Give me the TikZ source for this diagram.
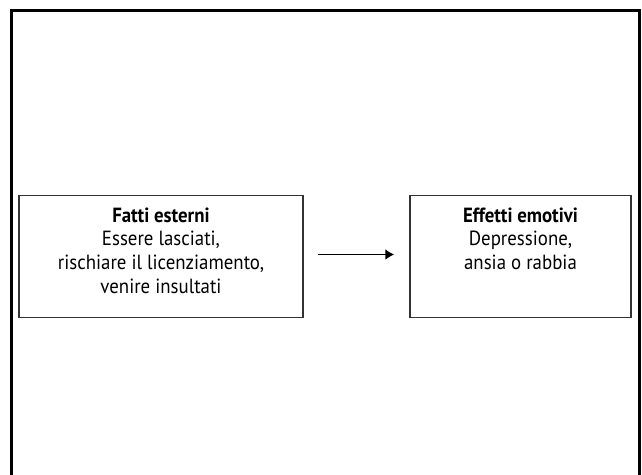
\documentclass[tikz,border=0pt]{standalone}
\usepackage{fontspec}
\setmainfont{PT Sans}[FakeStretch=0.92]
\usetikzlibrary{arrows.meta}
\begin{document}
\begin{tikzpicture}[x=1pt,y=-1pt,
  box/.style={draw=black!80,line width=1.5pt,minimum width=#1,minimum height=122pt,inner sep=0pt},
  txt/.style={align=center,font=\fontsize{20.5}{23.8}\selectfont,anchor=north},
  frame/.style={draw=black,line width=3pt}]
\useasboundingbox (0,0) rectangle (642,474);
\fill[white] (0,0) rectangle (642,474);
\draw[frame] (11,476) -- (11,10) -- (639,10) -- (639,476);
\node[box=284pt] (a) at (161,256.5) {};
\node[box=221pt] (b) at (520.5,256.5) {};
\node[txt] (ta) at (161,204) {\textbf{Fatti esterni}\\Essere lasciati,\\rischiare il licenziamento,\\venire insultati};
\node[txt] (tb) at (520.5,204) {\textbf{Effetti emotivi}\\Depressione,\\ansia o rabbia};
\draw[line width=1.8pt,-{Latex[length=9pt,width=11pt]}] ([xshift=14pt,yshift=2pt]a.east) -- ([xshift=-15pt,yshift=2pt]b.west);
\end{tikzpicture}
\end{document}
